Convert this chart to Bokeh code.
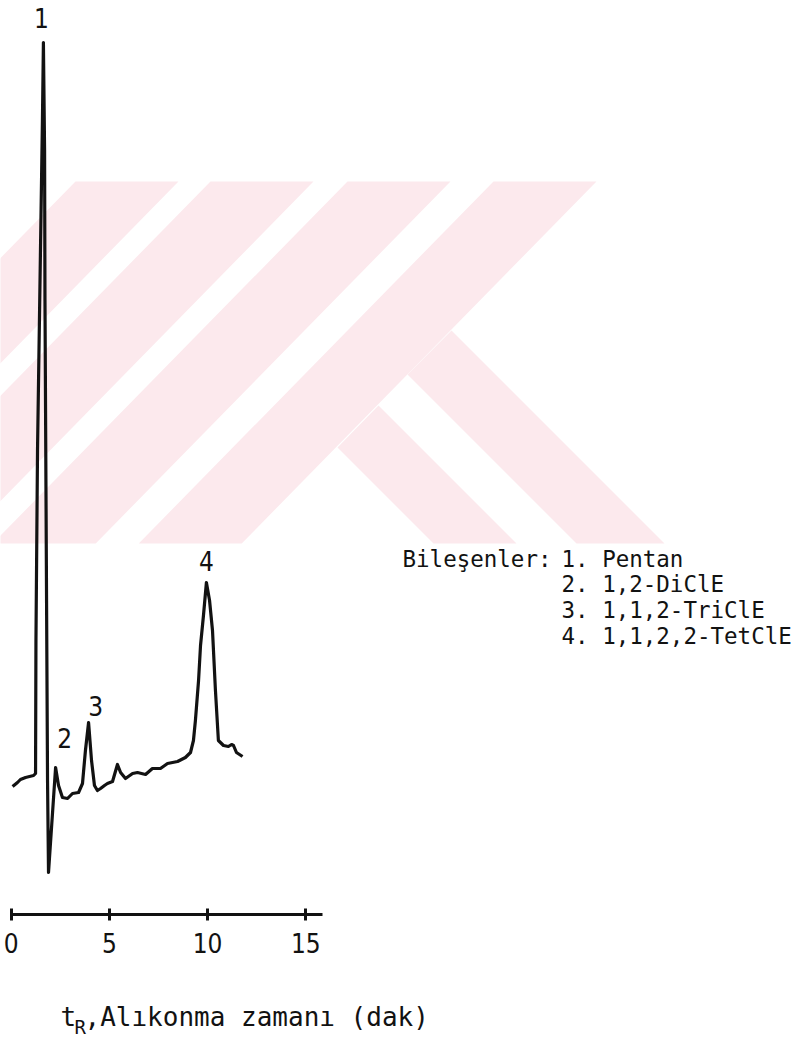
from bokeh.plotting import figure
from bokeh.models import Range1d, Label, FixedTicker
from bokeh.core.properties import value
from bokeh.embed import file_html
from bokeh.resources import INLINE

# ---------------- data ----------------
TIME_MIN = [0.07, 0.32, 0.47, 0.73, 1.14, 1.24, 1.26, 1.34, 1.49, 1.59,
            1.64, 1.70, 1.72, 1.80, 1.85, 1.90, 2.26, 2.41, 2.61, 2.87,
            3.12, 3.43, 3.63, 3.78, 3.94, 4.09, 4.24, 4.39, 4.55, 4.75,
            4.90, 5.16, 5.41, 5.57, 5.82, 6.18, 6.43, 6.84, 7.19, 7.60,
            7.96, 8.47, 8.87, 9.13, 9.28, 9.38, 9.54, 9.64, 9.79, 9.94,
            10.10, 10.25, 10.40, 10.55, 10.81, 11.06, 11.22, 11.32, 11.47, 11.78]
SIGNAL = [5.4, 5.8, 6.1, 6.3, 6.5, 6.7, 20.0, 39.0, 59.0, 72.0,
          79.8, 69.0, 54.0, 24.0, 6.0, -3.2, 7.3, 5.5, 4.3, 4.2,
          4.7, 4.8, 5.7, 9.0, 11.8, 8.0, 5.5, 5.0, 5.2, 5.5,
          5.7, 5.9, 7.6, 6.8, 6.2, 6.7, 6.8, 6.6, 7.2, 7.2,
          7.7, 7.9, 8.3, 8.8, 10.0, 12.0, 16.0, 19.5, 22.5, 25.8,
          24.0, 21.0, 15.0, 10.0, 9.5, 9.4, 9.6, 9.5, 8.8, 8.4]

PEAK_NAMES = ["1", "2", "3", "4"]
PEAK_TIME = [1.64, 2.26, 3.94, 9.94]
PEAK_SIGNAL = [79.8, 7.3, 11.8, 25.8]

LEGEND_TITLE = "Bileşenler:"
COMPONENTS = ["1. Pentan", "2. 1,2-DiClE", "3. 1,1,2-TriClE", "4. 1,1,2,2-TetClE"]

X_TICKS = [0, 5, 10, 15]
X_LABEL_MAIN = "t"
X_LABEL_SUB = "R"
X_LABEL_REST = ",Alıkonma zamanı (dak)"

# ---------------- layout / style ----------------
W, H = 810, 1044
X_START, X_END = -0.545, 40.70
Y_START, Y_END = -20.4, 84.0
AXIS_AT = -7.4
INK = "#121212"
PINK = "#fce9ed"
NARROW = "Liberation Sans Narrow, DejaVu Sans Condensed, Liberation Sans"
MONO = "DejaVu Sans Mono"

# label offsets (screen px) relative to each peak apex
LABEL_DX = [-2, 9, 7, 0]
LABEL_DY = [-25, -30, -17, -22]

# background watermark geometry (screen px, y downward)
WM_TOP, WM_BOTTOM = 181, 543
WM_STRIPE_LEFT = [75, 210, 347, 493]
WM_STRIPE_W = 103
WM_SLOPE = 0.98
WM_EXTRA = [
    [(337, 447), (378, 405), (516, 543), (433, 543)],
    [(407, 374), (451, 330), (664, 543), (576, 543)],
]


def sx_to_x(px):
    return X_START + px / W * (X_END - X_START)


def sy_to_y(py):
    return Y_END - py / H * (Y_END - Y_START)


p = figure(width=W, height=H,
           x_range=Range1d(X_START, X_END), y_range=Range1d(Y_START, Y_END),
           output_backend="svg", toolbar_location=None,
           y_axis_location=None, min_border=0)
p.grid.visible = False
p.outline_line_color = None
p.background_fill_color = "white"
p.border_fill_color = "white"

# watermark
wm_xs, wm_ys = [], []
dxb = WM_SLOPE * (WM_BOTTOM - WM_TOP)
for x0 in WM_STRIPE_LEFT:
    pts = [(x0, WM_TOP), (x0 + WM_STRIPE_W, WM_TOP),
           (x0 + WM_STRIPE_W - dxb, WM_BOTTOM), (x0 - dxb, WM_BOTTOM)]
    wm_xs.append([sx_to_x(a) for a, b in pts])
    wm_ys.append([sy_to_y(b) for a, b in pts])
for pts in WM_EXTRA:
    wm_xs.append([sx_to_x(a) for a, b in pts])
    wm_ys.append([sy_to_y(b) for a, b in pts])
p.patches(wm_xs, wm_ys, fill_color=PINK, line_color=None)

# chromatogram trace
p.line(TIME_MIN, SIGNAL, line_width=3.2, line_color=INK, line_join="round")

# peak numbers
p.text(x=PEAK_TIME, y=PEAK_SIGNAL, text=PEAK_NAMES,
       x_offset=LABEL_DX, y_offset=LABEL_DY,
       text_align="center", text_baseline="middle",
       text_font=value(NARROW), text_font_size="26px", text_color=INK)

# time axis
xa = p.xaxis[0]
xa.fixed_location = AXIS_AT
xa.ticker = FixedTicker(ticks=X_TICKS)
xa.bounds = (0, 15.85)
xa.axis_line_width = 3
xa.axis_line_color = INK
xa.major_tick_in = 6
xa.major_tick_out = 6
xa.major_tick_line_width = 3
xa.major_tick_line_color = INK
xa.minor_tick_line_color = None
xa.major_label_text_font = NARROW
xa.major_label_text_font_size = "26px"
xa.major_label_text_color = INK
xa.major_label_standoff = 12

# axis title with subscript
p.add_layout(Label(x=60, y=H - 1016, x_units="screen", y_units="screen",
                   text=X_LABEL_MAIN, text_font=MONO, text_font_size="26px",
                   text_color=INK, text_baseline="alphabetic"))
p.add_layout(Label(x=74, y=H - 1026, x_units="screen", y_units="screen",
                   text=X_LABEL_SUB, text_font=MONO, text_font_size="19px",
                   text_color=INK, text_baseline="alphabetic"))
p.add_layout(Label(x=84, y=H - 1016, x_units="screen", y_units="screen",
                   text=X_LABEL_REST, text_font=MONO, text_font_size="26px",
                   text_color=INK, text_baseline="alphabetic"))

# component list
LEG_TOP, LEG_STEP = 558, 25.8
p.add_layout(Label(x=402, y=H - LEG_TOP, x_units="screen", y_units="screen",
                   text=LEGEND_TITLE, text_font=MONO, text_font_size="22.5px",
                   text_color=INK, text_baseline="middle"))
for i, comp in enumerate(COMPONENTS):
    p.add_layout(Label(x=561, y=H - (LEG_TOP + LEG_STEP * i), x_units="screen", y_units="screen",
                       text=comp, text_font=MONO, text_font_size="22.5px",
                       text_color=INK, text_baseline="middle"))

open("out.html", "w").write(file_html(p, INLINE))
